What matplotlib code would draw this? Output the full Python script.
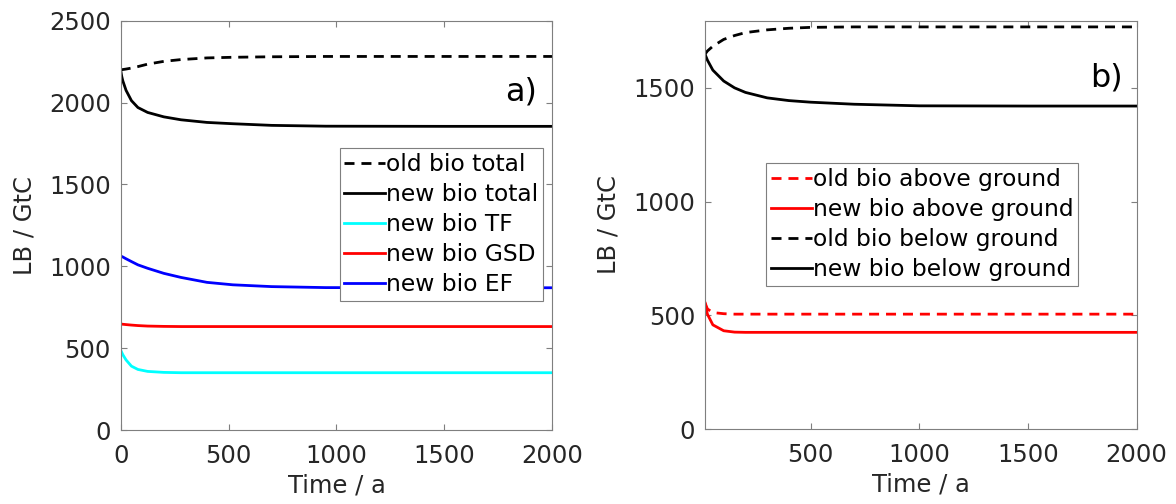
import numpy as np
from matplotlib import pyplot as plt

plt.rcParams['font.family'] = ['DejaVu Sans']

# panel a) -- total living biomass and biome parts
t_a = [0, 5, 10, 25, 50, 80, 125, 200, 280, 400, 520, 700, 950, 1500, 2000]
old_total = [2200, 2201, 2202, 2205, 2211, 2220, 2235, 2252, 2263, 2273, 2277, 2280, 2282, 2282, 2282]
new_total = [2200, 2160, 2133, 2075, 2012, 1970, 1940, 1913, 1895, 1879, 1871, 1861, 1856, 1855, 1855]
new_tf = [488, 474, 460, 428, 390, 370, 358, 352, 350, 350, 350, 350, 350, 350, 350]
new_gsd = [647, 647, 646, 644, 641, 638, 635, 633, 632, 632, 632, 632, 632, 632, 632]
new_ef = [1064, 1060, 1057, 1046, 1029, 1009, 988, 957, 932, 902, 887, 876, 870, 869, 869]

# panel b) -- above / below ground
t_b = [14, 25, 50, 100, 150, 200, 300, 400, 500, 700, 1000, 1500, 2000]
old_above = [555, 528, 512, 507, 505, 505, 505, 505, 505, 505, 505, 505, 505]
new_above = [555, 505, 458, 432, 426, 425, 425, 425, 425, 425, 425, 425, 425]
old_below = [1648, 1662, 1683, 1713, 1730, 1743, 1755, 1762, 1766, 1768, 1768, 1768, 1768]
new_below = [1648, 1622, 1578, 1530, 1500, 1480, 1456, 1444, 1437, 1428, 1421, 1420, 1420]

LW = 2.0
DASH = (3.6, 2.5)
FS = 17.5


def style_axes(ax):
    for s in ax.spines.values():
        s.set_color('#7f7f7f')
        s.set_linewidth(0.8)
    ax.tick_params(direction='in', top=True, right=True, length=4, width=0.8,
                   color='#7f7f7f', labelcolor='#262626', labelsize=FS)
    ax.tick_params(axis='x', pad=10)
    ax.tick_params(axis='y', pad=7)
    ax.set_xlabel('Time / a', fontsize=FS, color='#262626', labelpad=4)
    ax.set_ylabel('LB / GtC', fontsize=FS, color='#262626', labelpad=9)


def add_legend(ax, anchor, loc):
    leg = ax.legend(loc=loc, bbox_to_anchor=anchor, borderaxespad=0, fontsize=16.8,
                    handlelength=1.75, handletextpad=0.05, labelspacing=0.3,
                    borderpad=0.2, fancybox=False, framealpha=1)
    leg.get_frame().set_edgecolor('#7f7f7f')
    leg.get_frame().set_linewidth(0.8)


fig = plt.figure(figsize=(11.76, 5.04), dpi=100)

ax1 = fig.add_axes([0.1026, 0.1468, 0.367, 0.812])
ax1.plot(t_a, old_total, color='k', lw=LW, dashes=DASH, label='old bio total')
ax1.plot(t_a, new_total, color='k', lw=LW, label='new bio total')
ax1.plot(t_a, new_tf, color='cyan', lw=LW, label='new bio TF')
ax1.plot(t_a, new_gsd, color='red', lw=LW, label='new bio GSD')
ax1.plot(t_a, new_ef, color='blue', lw=LW, label='new bio EF')
ax1.set_xlim(0, 2000)
ax1.set_ylim(0, 2500)
ax1.set_xticks([0, 500, 1000, 1500, 2000])
ax1.set_yticks([0, 500, 1000, 1500, 2000, 2500])
style_axes(ax1)
add_legend(ax1, (0.979, 0.688), 'upper right')
ax1.text(0.965, 0.806, 'a)', transform=ax1.transAxes, ha='right', va='baseline', fontsize=23)

ax2 = fig.add_axes([0.5995, 0.1488, 0.367, 0.810])
ax2.plot(t_b, old_above, color='red', lw=LW, dashes=DASH, label='old bio above ground')
ax2.plot(t_b, new_above, color='red', lw=LW, label='new bio above ground')
ax2.plot(t_b, old_below, color='k', lw=LW, dashes=DASH, label='old bio below ground')
ax2.plot(t_b, new_below, color='k', lw=LW, label='new bio below ground')
ax2.set_xlim(14, 2000)
ax2.set_ylim(0, 1795)
ax2.set_xticks([500, 1000, 1500, 2000])
ax2.set_yticks([0, 500, 1000, 1500])
style_axes(ax2)
add_legend(ax2, (0.142, 0.651), 'upper left')
ax2.text(0.968, 0.838, 'b)', transform=ax2.transAxes, ha='right', va='baseline', fontsize=23)

fig.savefig('out.png', dpi=100)
